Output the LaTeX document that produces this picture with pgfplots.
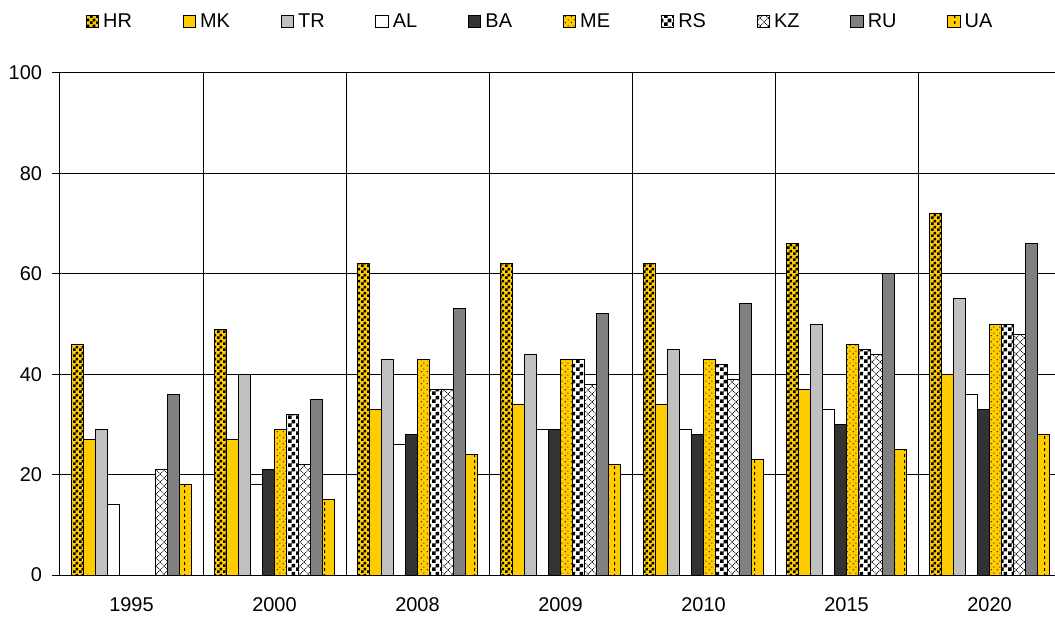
\documentclass[border=0pt]{standalone}
\usepackage{pgfplots}
\pgfplotsset{compat=1.18}
\usepackage{fontspec}
\setmainfont{Liberation Sans}
\usetikzlibrary{patterns}
\definecolor{gold}{HTML}{FFCC00}
\definecolor{ltgray}{HTML}{C0C0C0}
\definecolor{dkgray}{HTML}{333333}
\definecolor{mdgray}{HTML}{808080}
% small checkerboard (HR)
\pgfdeclarepatternformonly{hrcheck}{\pgfqpoint{0bp}{0bp}}{\pgfqpoint{2.8bp}{2.8bp}}{\pgfqpoint{2.8bp}{2.8bp}}{%
  \pgfpathrectangle{\pgfqpoint{0bp}{0bp}}{\pgfqpoint{1.4bp}{1.4bp}}%
  \pgfpathrectangle{\pgfqpoint{1.4bp}{1.4bp}}{\pgfqpoint{1.4bp}{1.4bp}}%
  \pgfusepath{fill}}
% large checkerboard (RS)
\pgfdeclarepatternformonly{rscheck}{\pgfqpoint{0bp}{0bp}}{\pgfqpoint{4bp}{4bp}}{\pgfqpoint{4bp}{4bp}}{%
  \pgfpathrectangle{\pgfqpoint{0bp}{0bp}}{\pgfqpoint{2bp}{2bp}}%
  \pgfpathrectangle{\pgfqpoint{2bp}{2bp}}{\pgfqpoint{2bp}{2bp}}%
  \pgfusepath{fill}}
% dots (ME)
\pgfdeclarepatternformonly{medots}{\pgfqpoint{0bp}{0bp}}{\pgfqpoint{3bp}{3bp}}{\pgfqpoint{3bp}{3bp}}{%
  \pgfpathcircle{\pgfqpoint{0.75bp}{0.75bp}}{0.35bp}%
  \pgfpathcircle{\pgfqpoint{2.25bp}{2.25bp}}{0.35bp}%
  \pgfusepath{fill}}
% vertical dashes (UA)
\pgfdeclarepatternformonly{uadash}{\pgfqpoint{0bp}{0bp}}{\pgfqpoint{5bp}{3bp}}{\pgfqpoint{5bp}{3bp}}{%
  \pgfpathrectangle{\pgfqpoint{2.25bp}{0bp}}{\pgfqpoint{0.6bp}{1.6bp}}%
  \pgfusepath{fill}}
% diamond lattice (KZ)
\pgfdeclarepatternformonly{kzlattice}{\pgfqpoint{-0.5bp}{-0.5bp}}{\pgfqpoint{4.5bp}{4.5bp}}{\pgfqpoint{4bp}{4bp}}{%
  \pgfsetlinewidth{0.35bp}%
  \pgfsetdash{{0.5bp}{0.4bp}}{0bp}%
  \pgfpathmoveto{\pgfqpoint{0bp}{0bp}}\pgfpathlineto{\pgfqpoint{4bp}{4bp}}%
  \pgfpathmoveto{\pgfqpoint{0bp}{4bp}}\pgfpathlineto{\pgfqpoint{4bp}{0bp}}%
  \pgfusepath{stroke}}

\begin{document}
\begin{tikzpicture}
\begin{axis}[
  name=ax,
  scale only axis,
  width=500.5bp, height=251bp,
  ybar=0pt, bar width=6bp,
  xmin=-0.5, xmax=6.5,
  ymin=0, ymax=100,
  ytick={0,20,...,100},
  xtick={0,...,6},
  xticklabels={1995,2000,2008,2009,2010,2015,2020},
  minor xtick={0.5,1.5,...,5.5},
  xminorgrids, ymajorgrids,
  major grid style={black, line width=0.5bp},
  minor grid style={black, line width=0.5bp},
  axis line style={black, line width=0.5bp},
  tick align=outside,
  major tick length=4bp,
  minor tick length=0pt,
  xtick style={draw=none},
  ytick style={black, line width=0.5bp},
  ytick pos=left,
  tick label style={font=\fontsize{10}{12}\selectfont},
  /pgf/number format/assume math mode=true,
  xticklabel style={yshift=-4bp},
  yticklabel style={xshift=-1.5bp},
  every axis plot/.append style={draw=black, line width=0.5bp},
  legend columns=10,
  legend style={draw=none, at={(0.4805,1.1016)}, anchor=center,
    font=\fontsize{10}{12}\selectfont,
    /tikz/every even column/.append style={column sep=23.3bp}},
  legend image code/.code={\draw[#1] (0bp,-3bp) rectangle (6.3bp,3bp);},
]
% HR
\addplot[fill=gold, postaction={pattern=hrcheck, pattern color=black}] coordinates {(0,46) (1,49) (2,62) (3,62) (4,62) (5,66) (6,72)};
% MK
\addplot[fill=gold] coordinates {(0,27) (1,27) (2,33) (3,34) (4,34) (5,37) (6,40)};
% TR
\addplot[fill=ltgray] coordinates {(0,29) (1,40) (2,43) (3,44) (4,45) (5,50) (6,55)};
% AL
\addplot[fill=white] coordinates {(0,14) (1,18) (2,26) (3,29) (4,29) (5,33) (6,36)};
% BA
\addplot[fill=dkgray] coordinates {(0,0) (1,21) (2,28) (3,29) (4,28) (5,30) (6,33)};
% ME
\addplot[fill=gold, postaction={pattern=medots, pattern color=black}] coordinates {(0,0) (1,29) (2,43) (3,43) (4,43) (5,46) (6,50)};
% RS
\addplot[fill=white, postaction={pattern=rscheck, pattern color=black}] coordinates {(0,0) (1,32) (2,37) (3,43) (4,42) (5,45) (6,50)};
% KZ
\addplot[fill=white, postaction={pattern=kzlattice, pattern color=black}] coordinates {(0,21) (1,22) (2,37) (3,38) (4,39) (5,44) (6,48)};
% RU
\addplot[fill=mdgray] coordinates {(0,36) (1,35) (2,53) (3,52) (4,54) (5,60) (6,66)};
% UA
\addplot[fill=gold, postaction={pattern=uadash, pattern color=black}] coordinates {(0,18) (1,15) (2,24) (3,22) (4,23) (5,25) (6,28)};
\legend{HR,MK,TR,AL,BA,ME,RS,KZ,RU,UA}
\end{axis}
\pgfresetboundingbox
\path[use as bounding box] ([xshift=-30bp,yshift=-21.5bp]ax.south west) rectangle ([xshift=-3bp,yshift=36.5bp]ax.north east);
\end{tikzpicture}
\end{document}
